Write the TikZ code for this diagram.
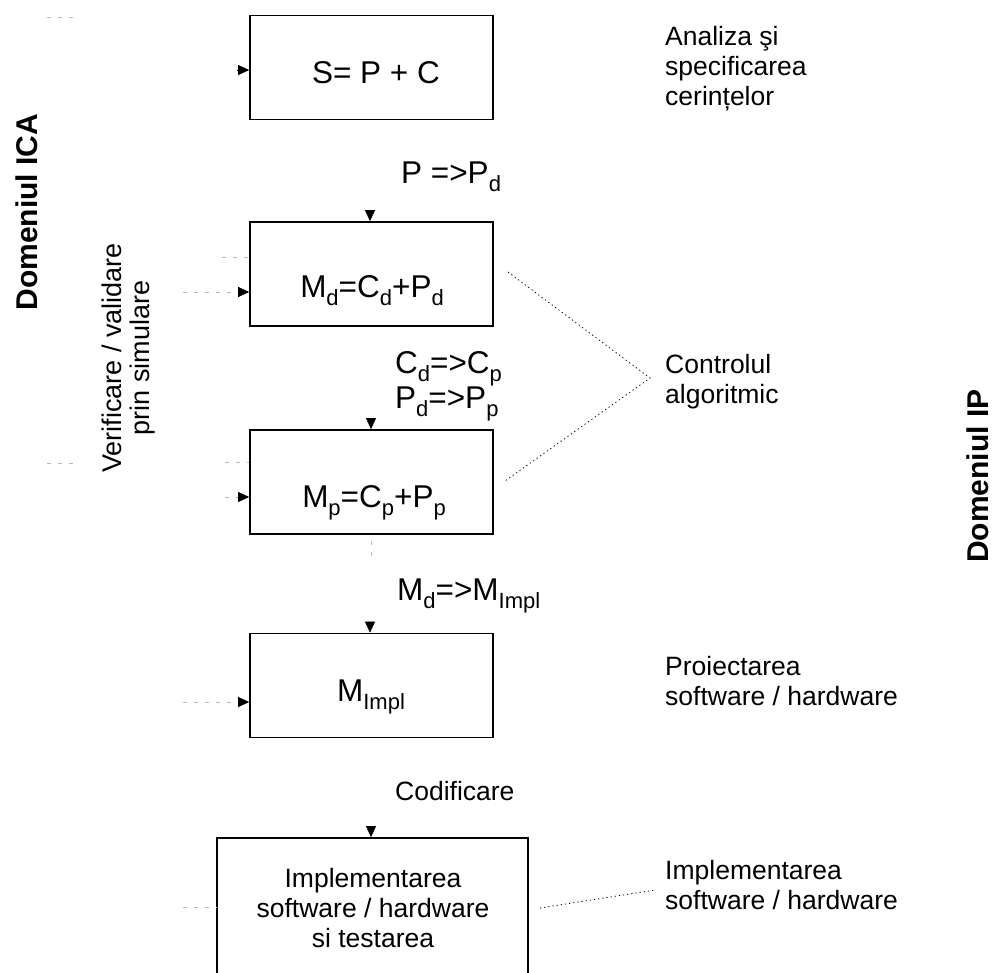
\documentclass[tikz,border=0pt]{standalone}
\usepackage{fontspec}
\setmainfont{Liberation Sans}
\usetikzlibrary{arrows.meta,calc}

% lowered, smaller index text
\newcommand\lo[1]{\raisebox{-0.5ex}{\fontsize{22}{22}\selectfont #1}}

\tikzset{
  stage/.style={draw, line width=1.7pt, minimum width=243pt, minimum height=104pt, inner sep=0pt},
  eqtext/.style={inner sep=0pt, font=\fontsize{31.5}{36}\selectfont},
  sidetext/.style={inner sep=0pt, align=left, anchor=north west, font=\fontsize{26.5}{30}\selectfont},
  domainlabel/.style={inner sep=0pt, rotate=90, anchor=base, font=\fontsize{30}{36}\selectfont\bfseries},
  tipD/.style={-{Triangle[length=11pt,width=10pt,color=black]}, line width=0.6pt},
  faint/.style={draw=gray!55, line width=0.7pt, dash pattern=on 4pt off 7pt},
  guide/.style={line width=0.8pt, dash pattern=on 1.2pt off 3pt}
}

\begin{document}
\begin{tikzpicture}[x=1pt,y=-1pt]
\useasboundingbox (0,0) rectangle (993,972);
\clip (0,0) rectangle (993,972);

% stages
\node[stage] (b1) at (371.5,67.5) {};
\node[stage] (b2) at (371.5,274) {};
\node[stage] (b3) at (371.5,482) {};
\node[stage] (b4) at (371.5,685.5) {};
\node[stage, minimum width=311pt, minimum height=140pt] (b5) at (372.5,908) {};

% contents of the stages
\node[eqtext, anchor=base] (t1) at (376,83) {S= P + C};
\node[eqtext, anchor=base] (t2) at (372,297) {M\lo{d}=C\lo{d}+P\lo{d}};
\node[eqtext, anchor=base] (t3) at (374,507) {M\lo{p}=C\lo{p}+P\lo{p}};
\node[eqtext, anchor=base] (t4) at (371,701) {M\lo{Impl}};
\node[inner sep=0pt, align=center, anchor=north, font=\fontsize{26.5}{30}\selectfont] (t5) at (373,868.5)
  {Implementarea\\software / hardware\\si testarea};

% transformations between stages
\node[eqtext, anchor=base west] (r1) at (401,183) {P =>P\lo{d}};
\node[eqtext, anchor=base west] (r2) at (395,373) {C\lo{d}=>C\lo{p}};
\node[eqtext, anchor=base west] (r3) at (395,408) {P\lo{d}=>P\lo{p}};
\node[eqtext, anchor=base west] (r4) at (397,600) {M\lo{d}=>M\lo{Impl}};
\node[inner sep=0pt, anchor=base west, font=\fontsize{26.5}{30}\selectfont] (r5) at (395,800) {Codificare};

% phase names on the right
\node[sidetext] (s1) at (665,26) {Analiza şi\\specificarea\\cerințelor};
\node[sidetext] (s2) at (665,354) {Controlul\\algoritmic};
\node[sidetext] (s3) at (665,656) {Proiectarea\\software / hardware};
\node[sidetext] (s4) at (665,860) {Implementarea\\software / hardware};

% domains
\node[domainlabel] (dica) at (37,212) {Domeniul ICA};
\node[domainlabel] (dip) at (988,476) {Domeniul IP};
\node[inner sep=0pt, rotate=90, align=center, font=\fontsize{27}{28}\selectfont] (ver) at (129,358)
  {Verificare / validare\\prin simulare};

% inputs from above
\coordinate (a2) at (370,210);
\coordinate (a3) at (371,418);
\coordinate (a4) at (370,622);
\coordinate (a5) at (371,826);
\draw[tipD] (a2) -- (a2 |- b2.north);
\draw[tipD] (a3) -- (a3 |- b3.north);
\draw[tipD] (a4) -- (a4 |- b4.north);
\draw[tipD] (a5) -- (a5 |- b5.north);

% inputs from the left
\coordinate (l1) at (237,70);
\coordinate (l2) at (183,292);
\coordinate (l2b) at (222,257);
\coordinate (l3) at (225,497);
\coordinate (l3b) at (225,462);
\coordinate (l4) at (183,702);
\coordinate (l5) at (183,907);
\draw[tipD] (l1) -- (l1 -| b1.west);
\draw[faint, tipD] (l2) -- (l2 -| b2.west);
\draw[faint] (l2b) -- (l2b -| b2.west);
\draw[faint, tipD] (l3) -- (l3 -| b3.west);
\draw[faint] (l3b) -- (l3b -| b3.west);
\draw[faint, tipD] (l4) -- (l4 -| b4.west);
\draw[faint] (l5) -- (l5 -| b5.west);

% stray marks of the left column
\coordinate (m1) at (47,17);
\coordinate (m2) at (73,17);
\coordinate (m3) at (47,463);
\coordinate (m4) at (76,463);
\draw[faint] (m1) -- (m2);
\draw[faint] (m3) -- (m4);
\coordinate (m5) at (371,541);
\coordinate (m6) at (371,556);
\draw[faint] (m5) -- (m6);

% guides to the phase names
\coordinate (gA) at (508,272);
\coordinate (gB) at (650,378);
\coordinate (gC) at (505,481);
\draw[guide] (gA) -- (gB) -- (gC);
\coordinate (gD) at (540,908);
\coordinate (gE) at (655,890);
\draw[guide] (gD) -- (gE);
\end{tikzpicture}
\end{document}
